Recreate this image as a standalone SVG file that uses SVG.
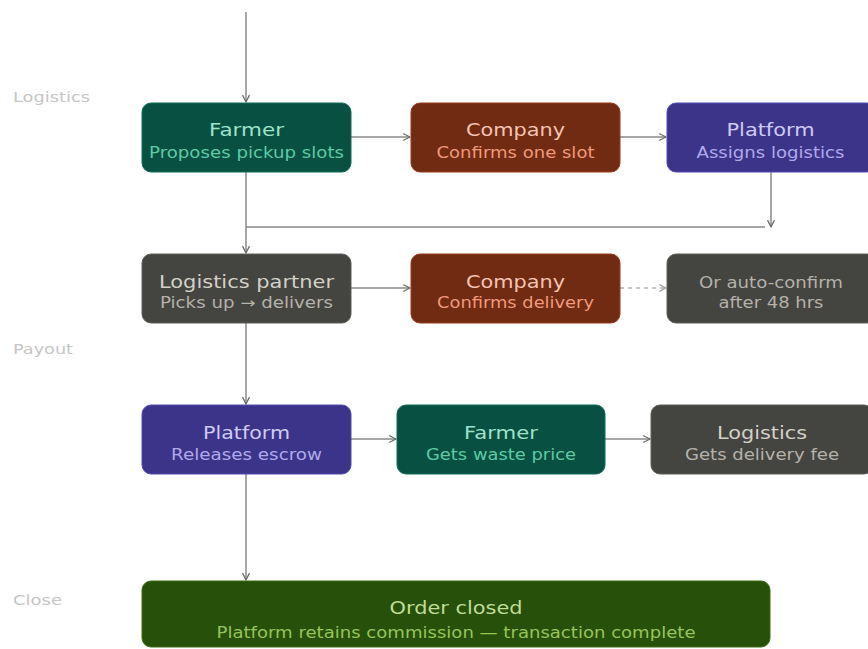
<svg xmlns="http://www.w3.org/2000/svg" width="868" height="649" viewBox="0 0 868 649">
<style>
  text { font-family: "DejaVu Sans", Verdana, sans-serif; text-anchor: middle; }
  .t { font-size: 18px; }
  .s { font-size: 15px; }
  .lbl { font-size: 13.5px; fill: #c6c6c6; text-anchor: start; }
  .teal rect { fill: #085041; stroke: #0F6E56; stroke-width: 1; }
  .teal .t { fill: #9FE1CB; } .teal .s { fill: #5DCAA5; }
  .coral rect { fill: #712B13; stroke: #993C1D; stroke-width: 1; }
  .coral .t { fill: #F5C4B3; } .coral .s { fill: #F0997B; }
  .purple rect { fill: #3C3489; stroke: #534AB7; stroke-width: 1; }
  .purple .t { fill: #CECBF6; } .purple .s { fill: #AFA9EC; }
  .gray rect { fill: #444441; stroke: #5F5E5A; stroke-width: 1; }
  .gray .t { fill: #D3D1C7; } .gray .s { fill: #B4B2A9; }
  .green rect { fill: #27500A; stroke: #3B6D11; stroke-width: 1; }
  .green .t { fill: #C0DD97; } .green .s { fill: #97C459; }
  .edge { fill: none; stroke: #8a8a88; stroke-width: 1.5; }
  .dash { fill: none; stroke: #b4b2a9; stroke-width: 1.5; stroke-dasharray: 4 4; }
</style>
<defs>
  <marker id="arr" viewBox="0 0 10 10" refX="9" refY="5" markerWidth="8" markerHeight="8" markerUnits="userSpaceOnUse" orient="auto">
    <path d="M1 1 L9 5 L1 9" fill="none" stroke="#6b6b69" stroke-width="1.6" stroke-linecap="round" stroke-linejoin="round"/>
  </marker>
  <marker id="arrd" viewBox="0 0 10 10" refX="9" refY="5" markerWidth="8" markerHeight="8" markerUnits="userSpaceOnUse" orient="auto">
    <path d="M1 1 L9 5 L1 9" fill="none" stroke="#9a9a98" stroke-width="1.6" stroke-linecap="round" stroke-linejoin="round"/>
  </marker>
</defs>

<g id="labels">
  <text class="lbl" x="13" y="102" textLength="77" lengthAdjust="spacingAndGlyphs">Logistics</text>
  <text class="lbl" x="13" y="354" textLength="60" lengthAdjust="spacingAndGlyphs">Payout</text>
  <text class="lbl" x="13" y="605" textLength="49" lengthAdjust="spacingAndGlyphs">Close</text>
</g>

<g id="connectors">
  <path class="edge" d="M246 12 V102" marker-end="url(#arr)"/>
  <path class="edge" d="M351 137 H410" marker-end="url(#arr)"/>
  <path class="edge" d="M620 137 H666" marker-end="url(#arr)"/>
  <path class="edge" d="M771 172 V227" marker-end="url(#arr)"/>
  <path class="edge" d="M246 227 H765"/>
  <path class="edge" d="M246 172 V253" marker-end="url(#arr)"/>
  <path class="edge" d="M351 288 H410" marker-end="url(#arr)"/>
  <path class="dash" d="M620 288 H666" marker-end="url(#arrd)"/>
  <path class="edge" d="M246 323 V404" marker-end="url(#arr)"/>
  <path class="edge" d="M351 439 H396" marker-end="url(#arr)"/>
  <path class="edge" d="M605 439 H650" marker-end="url(#arr)"/>
  <path class="edge" d="M246 474 V580" marker-end="url(#arr)"/>
</g>

<g id="n-farmer1" class="teal">
  <rect x="142" y="103" width="209" height="69" rx="9"/>
  <text class="t" x="246.5" y="136" textLength="75" lengthAdjust="spacingAndGlyphs">Farmer</text>
  <text class="s" x="246.5" y="158" textLength="195" lengthAdjust="spacingAndGlyphs">Proposes pickup slots</text>
</g>
<g id="n-company1" class="coral">
  <rect x="411" y="103" width="209" height="69" rx="9"/>
  <text class="t" x="515.5" y="136" textLength="99" lengthAdjust="spacingAndGlyphs">Company</text>
  <text class="s" x="515.5" y="158" textLength="158" lengthAdjust="spacingAndGlyphs">Confirms one slot</text>
</g>
<g id="n-platform1" class="purple">
  <rect x="667" y="103" width="209" height="69" rx="9"/>
  <text class="t" x="770.5" y="136" textLength="88" lengthAdjust="spacingAndGlyphs">Platform</text>
  <text class="s" x="770.5" y="158" textLength="148" lengthAdjust="spacingAndGlyphs">Assigns logistics</text>
</g>

<g id="n-logpartner" class="gray">
  <rect x="142" y="254" width="209" height="69" rx="9"/>
  <text class="t" x="246.5" y="288" textLength="175" lengthAdjust="spacingAndGlyphs">Logistics partner</text>
  <text class="s" x="246.5" y="308" textLength="173" lengthAdjust="spacingAndGlyphs">Picks up → delivers</text>
</g>
<g id="n-company2" class="coral">
  <rect x="411" y="254" width="209" height="69" rx="9"/>
  <text class="t" x="515.5" y="288" textLength="99" lengthAdjust="spacingAndGlyphs">Company</text>
  <text class="s" x="515.5" y="308" textLength="157" lengthAdjust="spacingAndGlyphs">Confirms delivery</text>
</g>
<g id="n-autoconfirm" class="gray">
  <rect x="667" y="254" width="209" height="69" rx="9"/>
  <text class="s" x="771" y="288" textLength="144" lengthAdjust="spacingAndGlyphs">Or auto-confirm</text>
  <text class="s" x="771" y="308" textLength="105" lengthAdjust="spacingAndGlyphs">after 48 hrs</text>
</g>

<g id="n-platform2" class="purple">
  <rect x="142" y="405" width="209" height="69" rx="9"/>
  <text class="t" x="246.5" y="439" textLength="87" lengthAdjust="spacingAndGlyphs">Platform</text>
  <text class="s" x="246.5" y="460" textLength="151" lengthAdjust="spacingAndGlyphs">Releases escrow</text>
</g>
<g id="n-farmer2" class="teal">
  <rect x="397" y="405" width="208" height="69" rx="9"/>
  <text class="t" x="501" y="439" textLength="74" lengthAdjust="spacingAndGlyphs">Farmer</text>
  <text class="s" x="501" y="460" textLength="150" lengthAdjust="spacingAndGlyphs">Gets waste price</text>
</g>
<g id="n-logistics" class="gray">
  <rect x="651" y="405" width="222" height="69" rx="9"/>
  <text class="t" x="762" y="439" textLength="90" lengthAdjust="spacingAndGlyphs">Logistics</text>
  <text class="s" x="762" y="460" textLength="154" lengthAdjust="spacingAndGlyphs">Gets delivery fee</text>
</g>

<g id="n-closed" class="green">
  <rect x="142" y="581" width="628" height="66" rx="9"/>
  <text class="t" x="456" y="614" textLength="133" lengthAdjust="spacingAndGlyphs">Order closed</text>
  <text class="s" x="456" y="638" textLength="479" lengthAdjust="spacingAndGlyphs">Platform retains commission — transaction complete</text>
</g>
</svg>
